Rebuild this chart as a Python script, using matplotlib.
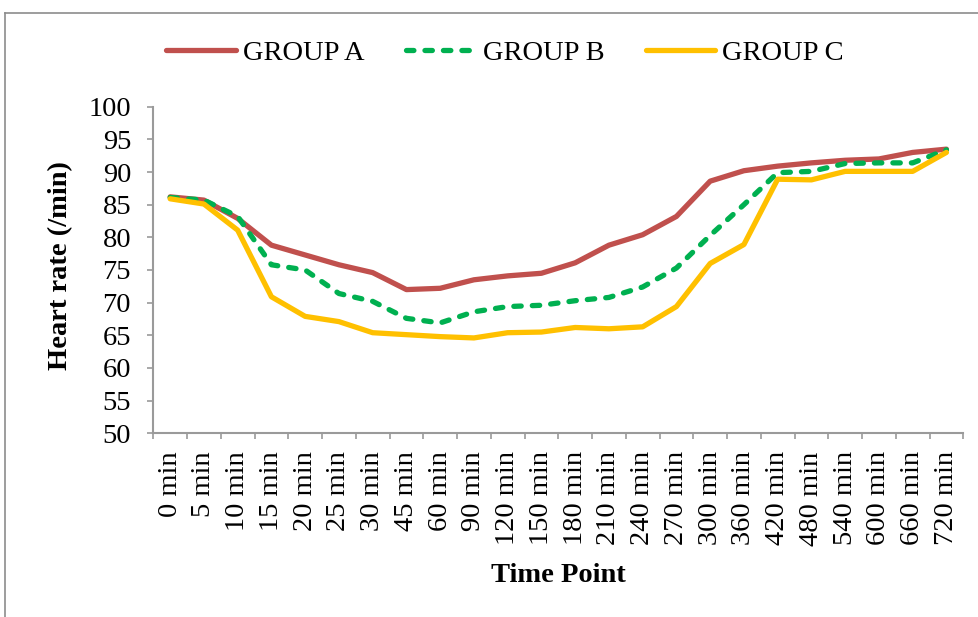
import matplotlib
matplotlib.use('Agg')
import matplotlib.pyplot as plt
from matplotlib.lines import Line2D

# time points and heart rate (/min) per group
time_points = ['0 min', '5 min', '10 min', '15 min', '20 min', '25 min', '30 min',
               '45 min', '60 min', '90 min', '120 min', '150 min', '180 min',
               '210 min', '240 min', '270 min', '300 min', '360 min', '420 min',
               '480 min', '540 min', '600 min', '660 min', '720 min']
group_a = [86.2, 85.7, 82.9, 78.8, 77.3, 75.8, 74.6, 72.0, 72.2, 73.5, 74.1, 74.5,
           76.1, 78.8, 80.4, 83.2, 88.6, 90.2, 90.9, 91.4, 91.8, 92.0, 93.0, 93.5]
group_b = [86.1, 85.7, 83.2, 75.8, 75.0, 71.4, 70.2, 67.6, 66.9, 68.6, 69.4, 69.6,
           70.3, 70.8, 72.4, 75.3, 80.3, 85.0, 89.9, 90.1, 91.3, 91.4, 91.4, 93.4]
group_c = [85.9, 85.1, 81.1, 70.9, 67.9, 67.1, 65.4, 65.1, 64.8, 64.6, 65.4, 65.5,
           66.2, 66.0, 66.3, 69.4, 76.0, 78.9, 88.9, 88.8, 90.1, 90.1, 90.1, 93.0]
y_ticks = list(range(50, 101, 5))

plt.rcParams['font.family'] = ['Liberation Serif', 'DejaVu Serif']
FS = 20.5
AXIS_GREY = '#9a9a9a'

fig = plt.figure(figsize=(9.79, 6.17), dpi=100)
ax = fig.add_axes([153.3 / 979, 1 - 433.3 / 617, 810 / 979, 326.6 / 617])

x = list(range(len(time_points)))
lw = 3.8
ax.plot(x, group_a, color='#C0504D', lw=lw, solid_capstyle='round',
        solid_joinstyle='round', label='GROUP A')
ax.plot(x, group_b, color='#00B050', lw=lw, dashes=(1.4, 2.1),
        dash_capstyle='round', dash_joinstyle='round', label='GROUP B')
ax.plot(x, group_c, color='#FFC000', lw=lw, solid_capstyle='round',
        solid_joinstyle='round', label='GROUP C')

ax.set_xlim(-0.5, len(time_points) - 0.5)
ax.set_ylim(50, 100)
ax.set_yticks(y_ticks)
ax.set_yticklabels([str(v) for v in y_ticks], fontsize=FS)
ax.set_xticks(x)
ax.set_xticklabels(time_points, rotation=90, fontsize=FS)
ax.set_xticks([i - 0.5 for i in range(len(time_points) + 1)], minor=True)

ax.tick_params(axis='x', which='major', length=0, pad=13)
ax.tick_params(axis='x', which='minor', length=4, width=1.2, color=AXIS_GREY)
ax.tick_params(axis='y', which='major', length=4, width=1.2, color=AXIS_GREY, pad=12)

for side in ['top', 'right']:
    ax.spines[side].set_visible(False)
for side in ['left', 'bottom']:
    ax.spines[side].set_color(AXIS_GREY)
    ax.spines[side].set_linewidth(1.5)

fig.text(61 / 979, 1 - 266 / 617, 'Heart rate (/min)', rotation=90, ha='center',
         va='center', fontsize=FS, fontweight='bold')
fig.text(558 / 979, 1 - 576 / 617, 'Time Point', ha='center', va='center',
         fontsize=FS, fontweight='bold')

fig.legend(loc='center', bbox_to_anchor=(505 / 979, 1 - 53 / 617), ncol=3,
           frameon=False, fontsize=FS, handlelength=2.45, handletextpad=0.25,
           columnspacing=1.45)

# outer chart border (only the left and top edges show)
fig.add_artist(Line2D([5 / 979, 5 / 979], [0, 1 - 13 / 617], color='#8c8c8c',
                      lw=1.2, transform=fig.transFigure))
fig.add_artist(Line2D([5 / 979, 1], [1 - 13 / 617, 1 - 13 / 617], color='#8c8c8c',
                      lw=1.2, transform=fig.transFigure))

fig.savefig('out.png', dpi=100)
